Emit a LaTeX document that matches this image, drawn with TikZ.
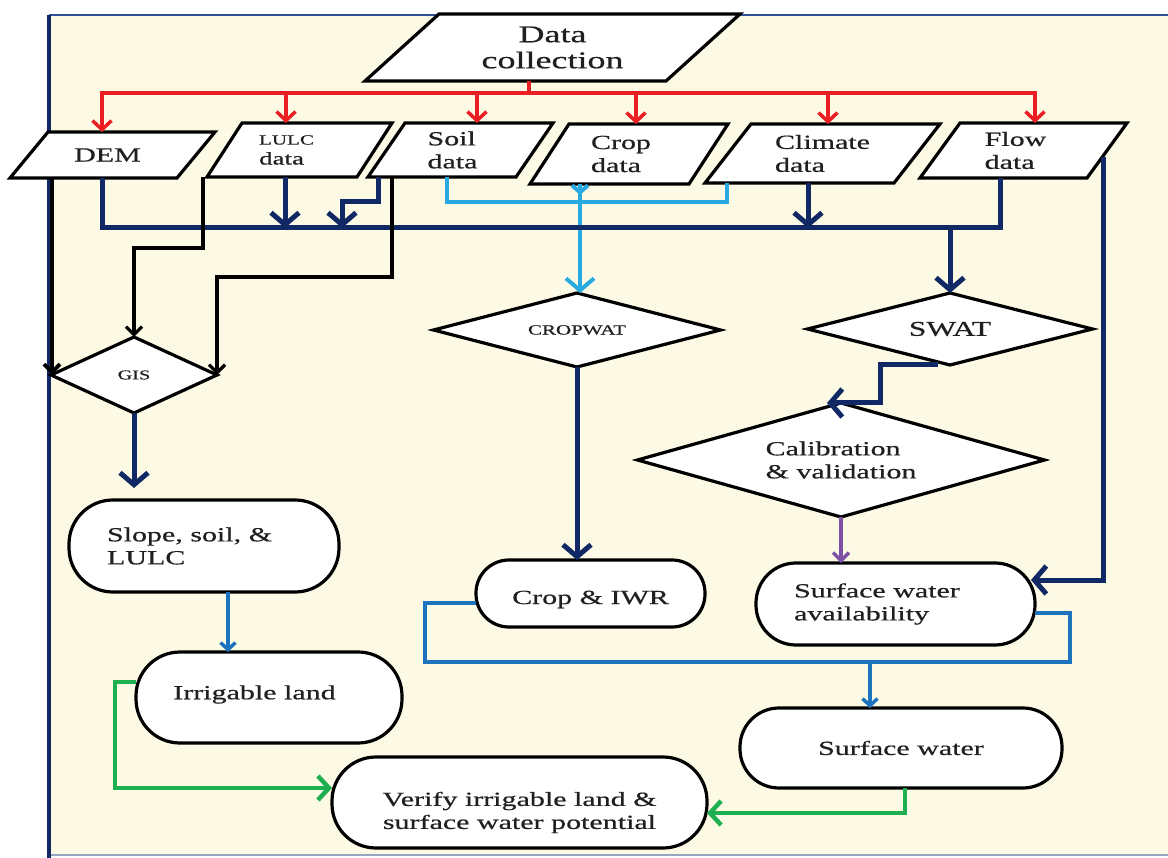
\documentclass[tikz,border=0pt]{standalone}
\usepackage{fontspec}
\setmainfont{Liberation Serif}[FakeStretch=1.5,FakeBold=0.6]
\usetikzlibrary{arrows.meta,shapes.geometric,calc}
\definecolor{cream}{RGB}{252,250,228}
\definecolor{navyc}{RGB}{16,40,100}
\definecolor{redc}{RGB}{235,30,35}
\definecolor{lbluec}{RGB}{40,170,225}
\definecolor{mbluec}{RGB}{30,115,190}
\definecolor{greenc}{RGB}{30,175,80}
\definecolor{purplec}{RGB}{125,80,165}
\definecolor{txtc}{RGB}{32,32,32}
\definecolor{framec}{RGB}{50,80,150}
\definecolor{framebot}{RGB}{150,165,195}
\tikzset{
  pnode/.style={inner sep=0pt,outer sep=0pt,draw=none},
  boxl/.style={draw=black,fill=white,line width=3.2pt,line join=miter},
  rnode/.style={draw=black,fill=white,line width=3.2pt,rounded corners=40pt,inner sep=0pt,outer sep=0pt},
  dnode/.style={diamond,draw=black,fill=white,line width=3.2pt,inner sep=0pt,outer sep=0pt,text=txtc,font=\fontsize{20}{23}\selectfont},
  txt/.style={inner sep=0pt,text=txtc,font=\fontsize{20}{23}\selectfont},
  redl/.style={draw=redc,line width=3.5pt},
  reda/.style={redl,-{Straight Barb[length=9pt,width=19pt]}},
  navyl/.style={draw=navyc,line width=5pt},
  navya/.style={navyl,-{Straight Barb[length=12pt,width=28pt]}},
  lbluel/.style={draw=lbluec,line width=4pt},
  lbluea/.style={lbluel,-{Straight Barb[length=12pt,width=28pt]}},
  lblues/.style={lbluel,-{Straight Barb[length=7pt,width=16pt]}},
  mbluel/.style={draw=mbluec,line width=3.5pt},
  mbluea/.style={mbluel,-{Straight Barb[length=7pt,width=15pt]}},
  greena/.style={draw=greenc,line width=4.5pt,-{Straight Barb[length=11pt,width=24pt]}},
  purplea/.style={draw=purplec,line width=3.5pt,-{Straight Barb[length=8pt,width=16pt]}},
  blka/.style={draw=black,line width=3.2pt,-{Straight Barb[length=8pt,width=16pt]}},
}
\newcommand\parabox[8]{%
  \node[pnode,minimum width=#4pt,minimum height=#5pt] (#1) at (#2,#3) {};
  \filldraw[boxl] ([xshift=#6pt]#1.north west) -- (#1.north east) -- ([xshift=-#6pt]#1.south east) -- (#1.south west) -- cycle;
  \node[txt,#8] (#1-txt) at (#1) {#7};}
\newcommand\roundbox[8]{%
  \node[rnode,rounded corners=#8pt,minimum width=#4pt,minimum height=#5pt] (#1) at (#2,#3) {};
  \node[txt,#7] (#1-txt) at (#1) {#6};}
\begin{document}
\begin{tikzpicture}[x=1pt,y=-1pt]
\useasboundingbox (0,0) rectangle (1168,858);
\fill[white] (0,0) rectangle (1168,858);
\fill[cream] (49,15) rectangle (1168,855);
\draw[framec,line width=2pt] (49,15) -- (1168,15);
\draw[framebot,line width=2pt] (49,855) -- (1168,855);
\draw[navyc,line width=4pt] (49,15) -- (49,858);

% input boxes
\parabox{dc}{552.5}{47.5}{375}{67}{74}{Data\\collection}{align=center,font=\fontsize{24}{26}\selectfont}
\parabox{dem}{112.5}{155}{205}{46}{38}{DEM}{xshift=-5pt}
\parabox{lulc}{299.5}{150}{185}{54}{35}{{\fontsize{14}{16}\selectfont LULC}\\data}{align=left,xshift=-13pt,font=\fontsize{18}{20}\selectfont}
\parabox{soil}{460.5}{150}{185}{54}{37}{Soil\\data}{align=left,xshift=-8pt}
\parabox{crop}{629}{154}{198}{60}{39}{Crop\\data}{align=left,xshift=-8pt}
\parabox{clim}{822.5}{153.5}{235}{59}{46}{Climate\\data}{align=left}
\parabox{flow}{1023.5}{150.5}{207}{55}{40}{Flow\\data}{align=left,xshift=-8pt}

% diamonds
\node[dnode,minimum width=166pt,minimum height=76pt,aspect=2.2,font=\fontsize{13.5}{15}\selectfont] (gis) at (134,375) {GIS};
\node[dnode,minimum width=287pt,minimum height=74pt,aspect=3.9,font=\fontsize{14}{16}\selectfont] (cropwat) at (577,330) {CROPWAT};
\node[dnode,minimum width=285pt,minimum height=72pt,aspect=3.9,font=\fontsize{21}{24}\selectfont] (swat) at (950,329) {SWAT};
\node[dnode,minimum width=407pt,minimum height=114pt,aspect=3.57,align=left] (calib) at (841,460) {Calibration\\\& validation};

% rounded boxes
\roundbox{slope}{204}{546}{270}{92}{Slope, soil, \&\\LULC}{align=left,xshift=-14.5pt}{44}
\roundbox{irr}{269}{697.5}{266}{91}{Irrigable land}{xshift=-14.5pt,yshift=3pt}{44}
\roundbox{cropiwr}{590.5}{593.5}{229}{67}{Crop \& IWR}{yshift=-6pt}{33}
\roundbox{swa}{895.5}{604}{279}{82}{Surface water\\availability}{align=left,xshift=-18.5pt}{40}
\roundbox{sw}{901}{748}{322}{80}{Surface water}{}{39}
\roundbox{ver}{519.5}{802.5}{375}{91}{Verify irrigable land \&\\surface water potential}{align=center,yshift=-10pt}{44}

% red distribution
\coordinate (rb) at ([xshift=-23.5pt,yshift=-12pt]dc.south);
\draw[redl] ([xshift=-23.5pt]dc.south) -- (rb);
\coordinate (rdem) at ([xshift=-10.5pt]dem.north);
\coordinate (rlulc) at ([xshift=-13.5pt]lulc.north);
\coordinate (rsoil) at ([xshift=16.5pt]soil.north);
\coordinate (rcrop) at ([xshift=7pt]crop.north);
\coordinate (rclim) at ([xshift=5.5pt]clim.north);
\coordinate (rflow) at ([xshift=11.5pt]flow.north);
\draw[reda] (rb) -| (rdem);
\draw[reda] (rb) -| (rflow);
\foreach \t in {rlulc,rsoil,rcrop,rclim} \draw[reda] (rb -| \t) -- (\t);

% light blue
\draw[lbluel] ([xshift=-13.5pt]soil.south) -- ++(0,25) -| ([xshift=-95.5pt]clim.south);
\coordinate (lcrop) at ([xshift=-49pt]crop.south);
\draw[lbluea] (lcrop) -- (lcrop |- cropwat.north);
\draw[lblues] (lcrop) -- ++(0,11);

% navy bus
\draw[navyl] ([xshift=-10.5pt]dem.south) -- ++(0,50) coordinate (nb) -| ([xshift=-23.5pt]flow.south);
\coordinate (nlulc) at ([xshift=-14.5pt]lulc.south);
\draw[navya] (nlulc) -- (nlulc |- nb);
\coordinate (nsoil) at ([xshift=-82.5pt]soil.south);
\draw[navya] (nsoil) -- ++(0,25) -- ++(-36,0) -- ++(0,26);
\coordinate (nclim) at ([xshift=-14.5pt]clim.south);
\draw[navya] (nclim) -- (nclim |- nb);
\draw[navya] (nb -| swat.north) -- (swat.north);
\coordinate (nflow) at ([xshift=79.5pt,yshift=-6.5pt]flow.center);
\draw[navya] (nflow) |- ([xshift=-4pt,yshift=24pt]swa.east);
\draw[navya] (gis.south) -- ++(0,75);
\draw[navya] (cropwat.south) -- (cropwat.south |- cropiwr.north);
\draw[navya] ([xshift=-12pt]swat.south) -- ++(-58,0) |- ([xshift=-14pt]calib.north);

% black to GIS
\coordinate (kdem) at ([xshift=-60.5pt]dem.south);
\draw[blka,line width=4pt] (kdem) -- (kdem |- gis.west);
\draw[blka] ([xshift=-96.5pt]lulc.south) -- ++(0,71) -| (gis.north);
\draw[blka] ([xshift=-68.5pt]soil.south) -- ++(0,100) -| (gis.east);

% purple
\draw[purplea] (calib.south) -- (calib.south |- swa.north);

% medium blue
\coordinate (mslope) at ([xshift=24pt]slope.south);
\draw[mbluea] (mslope) -- (mslope |- irr.north);
\coordinate (bb) at ([xshift=35pt,yshift=-58pt]swa.east);
\draw[mbluel] ([yshift=-9.5pt]cropiwr.west) -- ++(-51,0) |- (bb) |- ([yshift=-9pt]swa.east);
\coordinate (swin) at ([xshift=-31pt]sw.north);
\draw[mbluea] (bb -| swin) -- (swin);

% green
\draw[greena] ([yshift=15.5pt]irr.west) -- ++(-21,0) |- ([yshift=14.5pt]ver.west);
\draw[greena] ([xshift=4pt]sw.south) |- ([yshift=-10.5pt]ver.east);
\end{tikzpicture}
\end{document}
